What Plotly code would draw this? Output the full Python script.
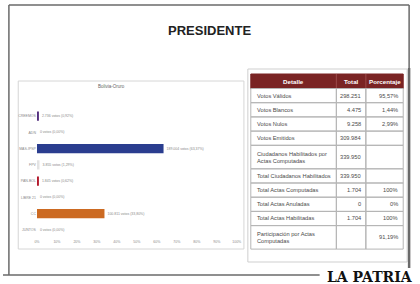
import plotly.graph_objects as go

W, H = 420, 284

# ---- data ----
parties = ["CREEMOS", "ADN", "MAS-IPSP", "FPV", "PAN-BOL", "LIBRE 21", "CC", "JUNTOS"]
votes = [2736, 0, 189004, 3855, 1845, 0, 100811, 0]
pcts = [0.92, 0.00, 63.37, 1.29, 0.62, 0.00, 33.80, 0.00]
bar_colors = ["#55307f", "#cccccc", "#2a3d8f", "#e3e3e3", "#b3192c", "#cccccc", "#cc6a22", "#cccccc"]
x_ticks = [0, 10, 20, 30, 40, 50, 60, 70, 80, 90, 100]

detalle = ["Votos Válidos", "Votos Blancos", "Votos Nulos", "Votos Emitidos",
           "Ciudadanos Habilitados por<br>Actas Computadas", "Total Ciudadanos Habilitados",
           "Total Actas Computadas", "Total Actas Anuladas", "Total Actas Habilitadas",
           "Participación por Actas<br>Computadas"]
total = ["298.251", "4.475", "9.258", "309.984", "339.950", "339.950", "1.704", "0", "1.704", ""]
porcentaje = ["95,57%", "1,44%", "2,99%", "", "", "", "100%", "0%", "100%", "91,19%"]
headers = ["Detalle", "Total", "Porcentaje"]


def X(px):
    return px / W


def Y(py):
    return 1 - py / H


def fmt_votes(v):
    return f"{v:,}".replace(",", ".")


bar_text = [f"{fmt_votes(v)} votos ({f'{p:.2f}'.replace('.', ',')}%)" for v, p in zip(votes, pcts)]

fig = go.Figure()

fig.add_trace(go.Bar(
    y=parties, x=pcts, orientation="h",
    marker=dict(color=bar_colors, line=dict(width=0)),
    text=bar_text, textposition="outside",
    textfont=dict(size=3.5, color="#8a8a8a", family="Liberation Sans"),
    cliponaxis=False, width=0.56, showlegend=False,
    hoverinfo="skip",
))

fig.update_layout(
    width=W, height=H,
    margin=dict(l=0, r=0, t=0, b=0),
    paper_bgcolor="white", plot_bgcolor="white",
    xaxis=dict(domain=[X(34.5), X(237.7)], range=[0, 100], tickvals=x_ticks,
               ticktext=[f"{t}%" for t in x_ticks], showgrid=False, zeroline=False,
               showline=False, ticks="", tickfont=dict(size=3.5, color="#8a8a8a",
                                                       family="Liberation Sans"),
               fixedrange=True),
    yaxis=dict(domain=[Y(238), Y(108)], autorange="reversed", showgrid=False,
               zeroline=False, showline=False, ticks="",
               tickfont=dict(size=3.5, color="#8a8a8a", family="Liberation Sans"),
               fixedrange=True),
    bargap=0.44,
)

shapes = []
annotations = []
line_col = "#6a6a6a"

# table panel (behind)
shapes.append(dict(type="rect", xref="paper", yref="paper", x0=X(249), y0=Y(262), x1=X(411), y1=Y(69),
                   line=dict(color="#cfcfcf", width=1), fillcolor="white", layer="below"))

# outer frame
for x0, y0, x1, y1, w in [(6, 5, 413, 5, 1.5), (6, 5, 6, 275, 1.5), (413, 5, 413, 268, 1.5),
                          (413, 68, 413, 268, 2.5), (0, 275, 322, 275, 1.5)]:
    shapes.append(dict(type="line", xref="paper", yref="paper", x0=X(x0), y0=Y(y0), x1=X(x1), y1=Y(y1),
                       line=dict(color=line_col, width=w)))
# chart box
shapes.append(dict(type="rect", xref="paper", yref="paper", x0=X(15.5), y0=Y(249), x1=X(245), y1=Y(81),
                   line=dict(color="#d6d6d6", width=1), layer="below"))

# ---- manual table layout ----
col_edges = [252, 339, 369, 407]
header_h = 14.5
row_h = [14.2 if "<br>" not in d else 23.5 for d in detalle]
top = 74
grid_col = "#b5b5b5"
font_fam = "Liberation Sans"

# header
shapes.append(dict(type="rect", xref="paper", yref="paper", x0=X(col_edges[0]), x1=X(col_edges[-1]),
                   y0=Y(top + header_h), y1=Y(top), fillcolor="#7a2424",
                   line=dict(color="#7a2424", width=1)))
for j, htxt in enumerate(headers):
    cx = (col_edges[j] + col_edges[j + 1]) / 2
    annotations.append(dict(text=f"<b>{htxt}</b>", x=X(cx), y=Y(top + header_h / 2), xref="paper",
                            yref="paper", showarrow=False, xanchor="center", yanchor="middle",
                            font=dict(size=6.2, color="white", family=font_fam)))
    if j > 0:
        shapes.append(dict(type="line", xref="paper", yref="paper", x0=X(col_edges[j]), x1=X(col_edges[j]),
                           y0=Y(top + header_h), y1=Y(top), line=dict(color="#9a4a4a", width=1)))

y = top + header_h
cols = [detalle, total, porcentaje]
for i in range(len(detalle)):
    y0, y1 = y, y + row_h[i]
    for j in range(3):
        shapes.append(dict(type="rect", xref="paper", yref="paper", x0=X(col_edges[j]),
                           x1=X(col_edges[j + 1]), y0=Y(y1), y1=Y(y0),
                           line=dict(color=grid_col, width=1)))
        txt = cols[j][i]
        if not txt:
            continue
        if j == 0:
            xa, ax = col_edges[j] + 4, "left"
        else:
            xa, ax = col_edges[j + 1] - 3, "right"
        annotations.append(dict(text=txt, x=X(xa), y=Y((y0 + y1) / 2), xref="paper", yref="paper",
                                showarrow=False, xanchor=ax, yanchor="middle", align="left",
                                font=dict(size=5.7, color="#4a4a4a", family=font_fam)))
    y = y1

annotations.append(dict(text="<b>PRESIDENTE</b>", x=X(209.7), y=Y(30.5), xref="paper", yref="paper",
                        showarrow=False, font=dict(size=13, color="#222222", family="Liberation Sans"),
                        xanchor="center", yanchor="middle"))
annotations.append(dict(text="Bolivia-Oruro", x=X(110), y=Y(86), xref="paper", yref="paper",
                        showarrow=False, font=dict(size=4.5, color="#666666", family="Liberation Sans"),
                        xanchor="center", yanchor="middle"))
annotations.append(dict(text="<b>LA PATRIA</b>", x=X(373), y=Y(276.5), xref="paper", yref="paper",
                        showarrow=False, font=dict(size=14, color="#111111", family="DejaVu Serif"),
                        xanchor="center", yanchor="middle"))

fig.update_layout(shapes=shapes, annotations=annotations)
fig.write_html("out.html")
